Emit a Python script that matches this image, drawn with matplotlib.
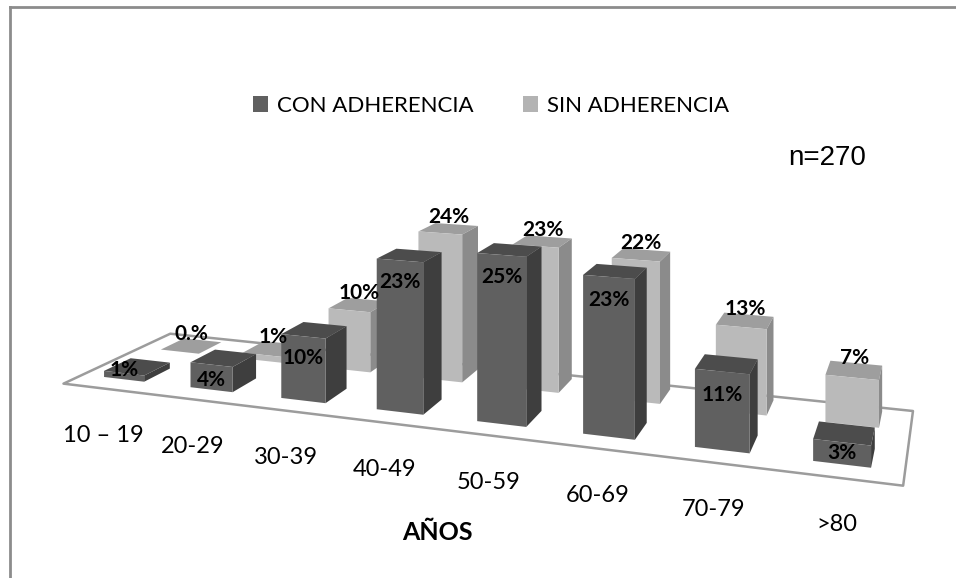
import matplotlib
matplotlib.use("Agg")
import matplotlib.pyplot as plt
import numpy as np
from matplotlib.lines import Line2D
from matplotlib.patches import Patch
from matplotlib.transforms import offset_copy
from mpl_toolkits.mplot3d import proj3d
from mpl_toolkits.mplot3d.art3d import Poly3DCollection

age_groups = ["10 \u2013 19", "20-29", "30-39", "40-49", "50-59", "60-69", "70-79", ">80"]
con_adherencia = [1, 4, 10, 23, 25, 23, 11, 3]
sin_adherencia = [0, 1, 10, 24, 23, 22, 13, 7]
con_labels = ["1%", "4%", "10%", "23%", "25%", "23%", "11%", "3%"]
sin_labels = ["0.%", "1%", "10%", "24%", "23%", "22%", "13%", "7%"]
series_names = ["CON ADHERENCIA", "SIN ADHERENCIA"]

# front / top / right-side shades per series
con_shades = {"front": "#606060", "top": "#4c4c4c", "side": "#3e3e3e"}
sin_shades = {"front": "#bababa", "top": "#9e9e9e", "side": "#8b8b8b"}

# scene layout, in category units (one category = 1 along x)
BAR_W = 0.47
BAR_D = 0.47
ROW_Y = [0.31, 1.35]            # front edge of each series row
FLOOR_X = (-0.5, 7.5)
FLOOR_Y = (0.0, 1.95)
PCT = 0.0614                    # category units per percentage point

# camera: level view, turned about the vertical axis
CAM_YAW = 19.52                 # degrees, away from the depth axis
CAM_POS = (8.025, -11.63, 4.23)
FOCAL_PX = 1388
PRINCIPAL_PX = (480, 620)       # from the lower-left corner of the figure
FIG_W, FIG_H = 956, 578
AX_PX = 1300


def face_colors(shades, n):
    # bar3d face order: bottom, top, front(-y), back(+y), left(-x), right(+x)
    per_bar = ["none", shades["top"], shades["front"], "none", "none", shades["side"]]
    return per_bar * n


fig = plt.figure(figsize=(FIG_W / 100, FIG_H / 100), dpi=100)

# mplot3d looks at the centre of its box, so the limits are centred on a
# point along the camera's line of sight; z spans twice the eye height so
# the view stays level and verticals stay parallel
yaw = np.radians(CAM_YAW)
view_dir = np.array([-np.sin(yaw), np.cos(yaw)])
reach = 13.0
mid_x = CAM_POS[0] + reach * view_dir[0]
mid_y = CAM_POS[1] + reach * view_dir[1]
half_x, half_y = 4.6, 2.0
aspect = np.array([2 * half_x, 2 * half_y, 2 * CAM_POS[2]])

focal = FOCAL_PX * 0.185 / AX_PX
box_scale = 10 * focal / reach
zoom = box_scale * np.linalg.norm(aspect) / (1.8294640721620434 * 25 / 24)
left = PRINCIPAL_PX[0] - 0.095 / 0.185 * AX_PX
bottom = PRINCIPAL_PX[1] - 0.095 / 0.185 * AX_PX

ax = fig.add_axes([left / FIG_W, bottom / FIG_H, AX_PX / FIG_W, AX_PX / FIG_H],
                  projection="3d")
ax.set_proj_type("persp", focal_length=focal)
ax.view_init(elev=0, azim=np.degrees(np.arctan2(-view_dir[1], -view_dir[0])), roll=0)
ax.set_box_aspect(aspect, zoom=zoom)
ax.set_xlim(mid_x - half_x, mid_x + half_x)
ax.set_ylim(mid_y - half_y, mid_y + half_y)
ax.set_zlim(0, 2 * CAM_POS[2] / PCT)
ax.set_axis_off()
ax.patch.set_alpha(0)
ax.computed_zorder = False

# floor
x0, x1 = FLOOR_X
y0, y1 = FLOOR_Y
floor = Poly3DCollection([[(x0, y0, 0), (x1, y0, 0), (x1, y1, 0), (x0, y1, 0)]],
                         facecolor="white", edgecolor="#9c9c9c", linewidth=1.8,
                         zorder=1)
ax.add_collection3d(floor)

n = len(age_groups)
xs = np.arange(n) - BAR_W / 2
heights = list(con_adherencia) + list(sin_adherencia)
bx = np.concatenate([xs, xs])
by = np.concatenate([np.full(n, ROW_Y[0]), np.full(n, ROW_Y[1])])
colors = face_colors(con_shades, n) + face_colors(sin_shades, n)
ax.bar3d(bx, by, np.zeros(2 * n), BAR_W, BAR_D, heights,
         color=colors, shade=False, edgecolor="none", zorder=2)

# labels are placed in 2D at the projected 3D anchor points
proj = ax.get_proj()


def to_screen(x, y, z):
    px, py, _ = proj3d.proj_transform(x, y, z, proj)
    return px, py


label_font = {"family": "Lato", "weight": "bold", "size": 15}
above = offset_copy(ax.transData, fig=fig, x=0, y=8.5, units="points")
below_axis = offset_copy(ax.transData, fig=fig, x=-2, y=-47, units="dots")
for i in range(n):
    v = con_adherencia[i]
    px, py = to_screen(i, ROW_Y[0], max(v - 3.3, 1.6))
    ax.text2D(px, py, con_labels[i], transform=ax.transData, ha="center",
              va="center", zorder=5, **label_font)
    w = sin_adherencia[i]
    px, py = to_screen(i, ROW_Y[1] + BAR_D / 2, w)
    ax.text2D(px, py, sin_labels[i], transform=above, ha="center",
              va="center", zorder=5, **label_font)

# category names hang a fixed distance below the front edge of the floor
for i, name in enumerate(age_groups):
    px, py = to_screen(i, FLOOR_Y[0], 0)
    ax.text2D(px, py, name, transform=below_axis, ha="center", va="center",
              zorder=5, family="Lato", size=17)

fig.text(437 / FIG_W, 1 - 533 / FIG_H, "AÑOS", ha="center", va="center",
         family="Lato", weight="bold", size=18)
fig.text(827 / FIG_W, 1 - 158 / FIG_H, "n=270", ha="center", va="center",
         family="Liberation Sans", size=20)

handles = [Patch(facecolor=con_shades["front"]), Patch(facecolor="#b3b3b3")]
fig.legend(handles, series_names, loc="center", bbox_to_anchor=(491 / FIG_W, 1 - 106 / FIG_H),
           ncol=2, frameon=False, prop={"family": "Lato", "size": 16},
           handlelength=0.7, handleheight=0.7, handletextpad=0.4, columnspacing=2.2)

# chart frame
fig.add_artist(Line2D([10 / FIG_W, 10 / FIG_W], [0, 1 - 7 / FIG_H], color="#8c8c8c", lw=2))
fig.add_artist(Line2D([10 / FIG_W, 1], [1 - 7 / FIG_H, 1 - 7 / FIG_H], color="#8c8c8c", lw=2))

fig.savefig("out.png", dpi=100)
